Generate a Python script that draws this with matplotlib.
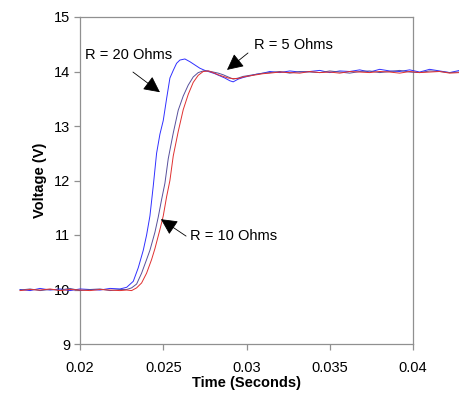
import matplotlib
matplotlib.use("Agg")
import matplotlib.pyplot as plt
from matplotlib.ticker import FixedLocator, FixedFormatter

plt.rcParams['font.family'] = ['Liberation Sans', 'DejaVu Sans']

# ---- data ----
t_base = [0.0164, 0.0170, 0.0176, 0.0182, 0.0188, 0.0194, 0.0200, 0.0206, 0.0212, 0.0218, 0.0224]
t_tail = [0.0314, 0.0320, 0.0326, 0.0332, 0.0338, 0.0344, 0.0350, 0.0356, 0.0362, 0.0368,
          0.0374, 0.0380, 0.0386, 0.0392, 0.0398, 0.0404, 0.0410, 0.0416, 0.0422, 0.0428]

# R = 20 Ohms (blue)
t20 = t_base + [0.0228, 0.0232, 0.0235, 0.0238, 0.0240, 0.0242, 0.0244, 0.0246, 0.0248, 0.0250,
                0.0252, 0.0254, 0.0256, 0.0258, 0.0260, 0.0263, 0.0266, 0.0269, 0.0272, 0.0275,
                0.0278, 0.0281, 0.0284, 0.0287, 0.0290, 0.0292, 0.0295, 0.0298, 0.0302, 0.0306,
                0.0310] + t_tail
v20 = [10.00, 9.98, 10.02, 9.99, 10.01, 9.98, 10.01, 10.00, 9.99, 10.02, 10.01] + \
      [10.04, 10.15, 10.40, 10.72, 11.00, 11.35, 11.90, 12.50, 12.85, 13.10,
       13.50, 13.88, 14.02, 14.15, 14.21, 14.23, 14.18, 14.12, 14.06, 14.02,
       13.99, 13.96, 13.92, 13.88, 13.83, 13.81, 13.86, 13.89, 13.92, 13.95,
       13.97] + \
      [14.00, 13.98, 14.01, 13.99, 14.00, 14.02, 13.98, 14.01, 14.00, 14.03,
       13.99, 14.04, 14.01, 14.00, 14.03, 13.99, 14.04, 14.01, 13.98, 14.02]

# R = 10 Ohms (dark blue / purple)
t10 = t_base + [0.0228, 0.0231, 0.0234, 0.0237, 0.0240, 0.0242, 0.0245, 0.0247, 0.0249, 0.0251,
                0.0253, 0.0256, 0.0259, 0.0262, 0.0265, 0.0268, 0.0271, 0.0274, 0.0277, 0.0280,
                0.0283, 0.0286, 0.0289, 0.0292, 0.0295, 0.0298, 0.0302, 0.0306, 0.0310] + t_tail
v10 = [9.99, 10.01, 9.98, 10.00, 9.99, 10.02, 9.98, 10.00, 10.01, 9.98, 10.00] + \
      [10.00, 10.03, 10.10, 10.30, 10.55, 10.72, 11.05, 11.33, 11.65, 11.95,
       12.40, 12.87, 13.29, 13.55, 13.75, 13.90, 13.98, 14.01, 14.01, 13.99,
       13.97, 13.94, 13.90, 13.86, 13.88, 13.91, 13.93, 13.95, 13.97] + \
      [13.98, 14.00, 13.97, 14.00, 13.99, 13.98, 14.01, 13.99, 13.97, 14.00,
       14.01, 13.98, 14.00, 14.02, 13.99, 13.98, 14.01, 14.00, 13.98, 13.99]

# R = 5 Ohms (red)
t5 = t_base + [0.0228, 0.0231, 0.0234, 0.0237, 0.0240, 0.0243, 0.0245, 0.0248, 0.0250, 0.0252,
               0.0254, 0.0256, 0.0259, 0.0262, 0.0265, 0.0268, 0.0271, 0.0274, 0.0277, 0.0280,
               0.0283, 0.0286, 0.0289, 0.0292, 0.0295, 0.0298, 0.0302, 0.0306, 0.0310] + t_tail
v5 = [9.98, 10.00, 9.99, 10.01, 9.98, 10.00, 9.99, 9.98, 10.00, 9.99, 9.98] + \
     [9.99, 9.98, 10.03, 10.12, 10.30, 10.55, 10.75, 11.10, 11.35, 11.70,
      12.00, 12.45, 12.90, 13.30, 13.58, 13.80, 13.93, 14.00, 14.01, 13.98,
      13.94, 13.91, 13.88, 13.87, 13.87, 13.90, 13.92, 13.94, 13.96] + \
     [13.97, 13.99, 13.98, 13.97, 14.00, 13.98, 13.99, 13.97, 14.00, 13.99,
      13.98, 14.00, 13.99, 13.97, 14.00, 13.98, 13.99, 14.00, 13.97, 13.98]

x_ticks = [0.02, 0.025, 0.03, 0.035, 0.04]
x_labels = ["0.02", "0.025", "0.03", "0.035", "0.04"]
y_ticks = [9, 10, 11, 12, 13, 14, 15]

labels = ["R = 20 Ohms", "R = 10 Ohms", "R = 5 Ohms"]
label_pos = [(0.02294, 14.30), (0.02925, 10.98), (0.0328, 14.49)]
arrow_tails = [(0.02318, 13.99), (0.02637, 10.98), (0.03009, 14.34)]
arrow_tips = [(0.0248, 13.62), (0.02486, 11.29), (0.02883, 14.03)]

# ---- figure ----
fig = plt.figure(figsize=(4.59, 3.97), dpi=100)
ax = fig.add_axes([80/459, 1-344/397, 333/459, 327/397])

ax.plot(t20, v20, color='#3030ff', lw=0.7, clip_on=False, zorder=3)
ax.plot(t10, v10, color='#58509c', lw=0.7, clip_on=False, zorder=3)
ax.plot(t5, v5, color='#e03030', lw=0.7, clip_on=False, zorder=3)

ax.set_xlim(0.02, 0.04)
ax.set_ylim(9, 15)
ax.xaxis.set_major_locator(FixedLocator(x_ticks))
ax.xaxis.set_major_formatter(FixedFormatter(x_labels))
ax.set_yticks(y_ticks)

for s in ax.spines.values():
    s.set_color('#909090')
    s.set_linewidth(0.9)
ax.tick_params(direction='out', length=4, width=0.9, color='#909090',
               labelsize=10.5, labelcolor='black')
ax.tick_params(axis='y', pad=3)
ax.tick_params(axis='x', pad=8.0)

ax.set_xlabel("Time (Seconds)", fontsize=10.5, fontweight='bold', labelpad=1.0)
ax.set_ylabel("Voltage (V)", fontsize=10.5, fontweight='bold', labelpad=5)

for lab, pos, tip, tail in zip(labels, label_pos, arrow_tips, arrow_tails):
    ax.text(pos[0], pos[1], lab, fontsize=10.5, ha='center', va='center')
    ax.annotate("", xy=tip, xytext=tail,
                arrowprops=dict(arrowstyle='-|>', color='black', lw=0.6,
                                mutation_scale=25, shrinkA=0, shrinkB=0))

fig.savefig("out.png", dpi=100)
